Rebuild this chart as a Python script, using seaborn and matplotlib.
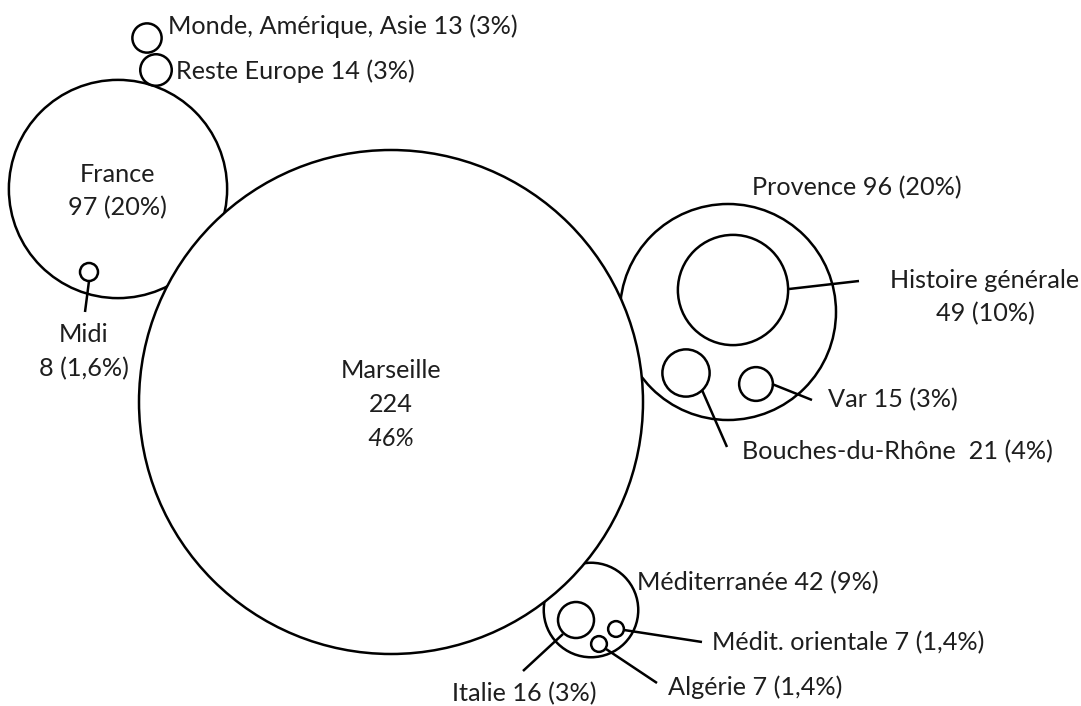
import matplotlib.pyplot as plt
import seaborn as sns
from matplotlib.patches import Circle

# Nombre de titres par thème
themes = ["Marseille", "France", "Midi", "Monde, Amérique, Asie", "Reste Europe",
          "Provence", "Histoire générale", "Bouches-du-Rhône", "Var",
          "Méditerranée", "Italie", "Médit. orientale", "Algérie"]
counts = [224, 97, 8, 13, 14, 96, 49, 21, 15, 42, 16, 7, 7]
shares = ["46%", "20%", "1,6%", "3%", "3%", "20%", "10%", "4%", "3%",
          "9%", "3%", "1,4%", "1,4%"]

# Layout (pixel-like units, y pointing down)
center_x = [391, 118, 89, 147, 156, 728, 733, 686, 756, 591, 576, 616, 599]
center_y = [402, 189, 272, 38, 70, 312, 290, 373, 384, 610, 620, 629, 644]
# drawing order: outer groups below Marseille, sub-themes above it
level = [2, 1, 3, 1, 1, 1, 3, 3, 3, 1, 3, 3, 3]
radius_per_title = 1.125

# label anchor, alignment, separator between name and count
label_x = [391, 117, 84, 168, 176, 857, 985, 742, 828, 637, 452, 712, 668]
label_y = [370, 174, 335, 26, 71, 188, 280, 452, 400, 583, 694, 643, 687]
label_ha = ["center", "center", "center", "left", "left", "center", "center",
            "left", "left", "left", "left", "left", "left"]
label_sep = ["\n", "\n", "\n", " ", " ", " ", "\n", "  ", " ", " ", " ", " ", " "]
line_gap = 34

# leader lines (from circle to label)
leaders = {
    "Midi": [(89, 281), (85, 312)],
    "Histoire générale": [(789, 289), (859, 281)],
    "Var": [(772, 384), (812, 400)],
    "Bouches-du-Rhône": [(702, 390), (727, 447)],
    "Italie": [(563, 634), (523, 671)],
    "Médit. orientale": [(624, 630), (702, 642)],
    "Algérie": [(606, 649), (657, 683)],
}

sns.set_theme(style="white")
plt.rcParams["font.family"] = ["Lato", "DejaVu Sans"]

fig = plt.figure(figsize=(10.81, 7.06), dpi=100)
ax = fig.add_axes([0, 0, 1, 1])
ax.set_xlim(0, 1081)
ax.set_ylim(706, 0)
ax.set_aspect("equal")
ax.axis("off")

lw = 1.8
for n, x, y, z in zip(counts, center_x, center_y, level):
    ax.add_patch(Circle((x, y), n * radius_per_title, facecolor="white",
                        edgecolor="black", linewidth=lw, zorder=z))

for name, pts in leaders.items():
    (x0, y0), (x1, y1) = pts
    ax.plot([x0, x1], [y0, y1], color="black", linewidth=lw,
            solid_capstyle="butt", zorder=4)

fs = 18.2
tc = "#1e1e1e"
for i, name in enumerate(themes):
    value = f"{counts[i]} ({shares[i]})"
    if name == "Marseille":
        lines = [(name, "normal"), (str(counts[i]), "normal"),
                 (shares[i], "italic")]
    elif label_sep[i] == "\n":
        lines = [(name, "normal"), (value, "normal")]
    else:
        lines = [(f"{name}{label_sep[i]}{value}", "normal")]
    for j, (s, st) in enumerate(lines):
        ax.text(label_x[i], label_y[i] + j * line_gap, s, ha=label_ha[i],
                va="center", fontsize=fs, style=st, color=tc, zorder=5)

fig.savefig("out.png", dpi=100, facecolor="white")
